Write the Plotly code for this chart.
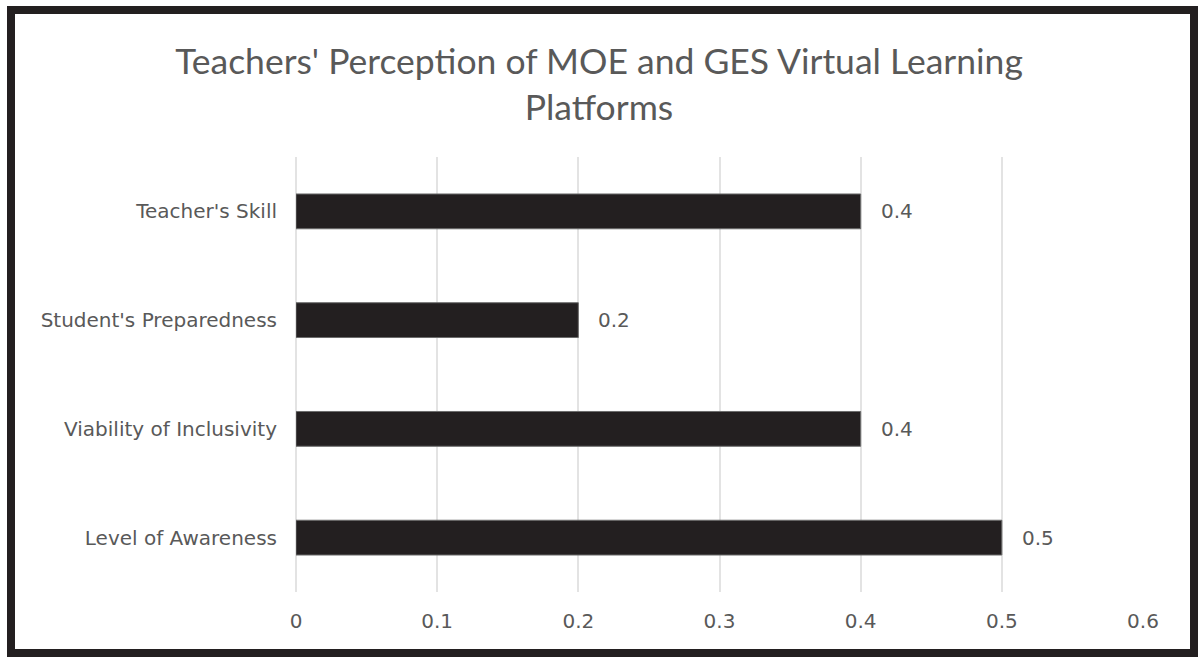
import plotly.graph_objects as go

categories = ["Level of Awareness", "Viability of Inclusivity", "Student's Preparedness", "Teacher's Skill"]
values = [0.5, 0.4, 0.2, 0.4]
tick_vals = [0, 0.1, 0.2, 0.3, 0.4, 0.5, 0.6]
tick_text = ["0", "0.1", "0.2", "0.3", "0.4", "0.5", "0.6"]
title_text = "Teachers' Perception of MOE and GES Virtual Learning<br>Platforms"

W, H = 1198, 657
L, R, T, B = 296, 55, 157, 65
pw, ph = W - L - R, H - T - B

def px_to_paper_x(px):
    return (px - L) / pw

def px_to_paper_y(py):
    return (H - B - py) / ph

FONT = "DejaVu Sans"
GRAY = "#595959"
GRID = "#e3e3e3"

fig = go.Figure()
fig.add_trace(go.Bar(
    y=categories, x=values, orientation="h",
    width=0.32,
    marker=dict(color="#231f20", line=dict(color="#6b6b6b", width=1)),
    hoverinfo="skip",
))

for c, v in zip(categories, values):
    fig.add_annotation(x=v, y=c, xref="x", yref="y", text=str(v), showarrow=False,
                       xanchor="left", yanchor="middle", xshift=18,
                       font=dict(family=FONT, size=20, color=GRAY))

fig.add_shape(type="rect", xref="paper", yref="paper",
              x0=px_to_paper_x(11), x1=px_to_paper_x(1194),
              y0=px_to_paper_y(653), y1=px_to_paper_y(10),
              line=dict(color="#231f20", width=8), fillcolor="rgba(0,0,0,0)", layer="above")

fig.update_layout(
    width=W, height=H,
    margin=dict(l=L, r=R, t=T, b=B),
    paper_bgcolor="white", plot_bgcolor="white",
    showlegend=False,
    title=dict(text=title_text, x=0.5, xref="container", xanchor="center",
               y=1 - 74 / H, yanchor="middle",
               font=dict(family="Lato", size=35.5, color=GRAY)),
    xaxis=dict(range=[0, 0.6], tickvals=tick_vals, ticktext=tick_text,
               showgrid=True, gridcolor=GRID, gridwidth=2,
               zeroline=True, zerolinecolor=GRID, zerolinewidth=2,
               showline=False, ticks="",
               tickfont=dict(family=FONT, size=20, color=GRAY),
               ticklabelstandoff=15),
    yaxis=dict(showgrid=False, zeroline=False, showline=False, ticks="",
               tickfont=dict(family=FONT, size=20, color=GRAY),
               ticklabelstandoff=18),
)

fig.write_html("out.html", config={"displayModeBar": False},
               post_script="document.body.style.margin='0';document.body.style.padding='0';")
